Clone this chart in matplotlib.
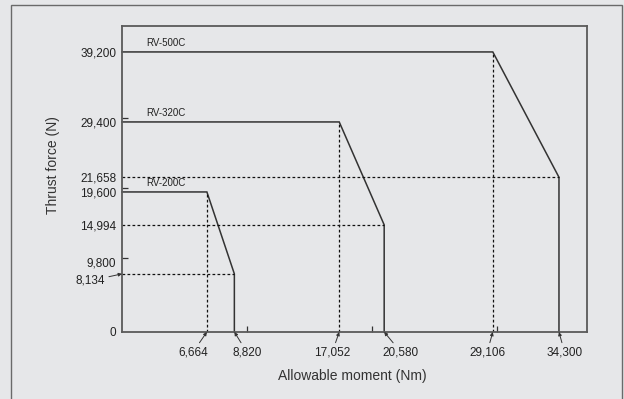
import matplotlib
matplotlib.use("Agg")
from matplotlib import pyplot as plt
from matplotlib.patches import Rectangle

# Curves: moment (Nm) vs thrust force (N)
models = ["RV-200C", "RV-320C", "RV-500C"]
knee_moment = [6664, 17052, 29106]     # end of flat part
max_moment = [8820, 20580, 34300]      # vertical drop
max_thrust = [19600, 29400, 39200]     # flat level
end_thrust = [8134, 14994, 21658]      # thrust at max moment

# tick labels
y_ticks = [0, 9800, 14994, 19600, 21658, 29400, 39200]
y_labels = ["0", "9,800", "14,994", "19,600", "21,658", "29,400", "39,200"]
minor_ticks = [9800, 19600, 29400]
x_marks = [6664, 8820, 17052, 20580, 29106, 34300]
x_mark_labels = ["6,664", "8,820", "17,052", "20,580", "29,106", "34,300"]
# label offsets (points) relative to the axis point
x_mark_dx = [-10, 9, -5, 12, -4, 4]

bg = "#e6e7e9"
ink = "#333333"

plt.rcParams['font.family'] = ['Liberation Sans', 'DejaVu Sans']

fig = plt.figure(figsize=(6.24, 3.99), dpi=100, facecolor=bg)
ax = fig.add_axes([0.1955, 0.168, 0.7452, 0.767])
ax.set_facecolor(bg)

# outer frame
fig.patches.append(Rectangle((11 / 624, -0.1), 611 / 624, 1.1 - 5 / 399,
                             transform=fig.transFigure, fill=False,
                             edgecolor="#6a6a6a", lw=1.0))

for name, xk, xm, yf, ye in zip(models, knee_moment, max_moment,
                                max_thrust, end_thrust):
    ax.plot([0, xk, xm, xm], [yf, yf, ye, 0], color=ink, lw=1.1,
            solid_joinstyle="miter", clip_on=False)
    ax.plot([xk, xk], [0, yf], color="#111111", lw=0.9, ls=(0, (2.2, 1.8)))
    ax.plot([0, xm], [ye, ye], color="#111111", lw=0.9, ls=(0, (2.2, 1.8)))
    ax.text(1900, yf + 500, name, fontsize=7, color="#222222",
            family=['Liberation Sans Narrow', 'Liberation Sans'],
            va="bottom", ha="left")

ax.set_xlim(0, 36500)
ax.set_ylim(0, 42840)

ax.set_yticks(y_ticks)
ax.set_yticklabels(y_labels)
ax.set_yticks([y + 500 for y in minor_ticks], minor=True)
ax.set_xticks([])
ax.set_xticks(minor_ticks, minor=True)
ax.tick_params(axis="both", which="major", length=0, labelsize=8.5,
               labelcolor="#222222", pad=4)
ax.tick_params(axis="both", which="minor", length=4, direction="in",
               width=0.9, color=ink)

for sp in ax.spines.values():
    sp.set_color("#5a5a5a")
    sp.set_linewidth(1.3)

# x value labels with small arrows
for xv, lab, dx in zip(x_marks, x_mark_labels, x_mark_dx):
    ax.annotate(lab, xy=(xv, 0), xytext=(dx, -14.5), textcoords="offset points",
                ha="center", va="center", fontsize=8.5, color="#222222",
                arrowprops=dict(arrowstyle="-|>", color=ink, lw=0.7,
                                mutation_scale=5, shrinkA=0.5, shrinkB=0),
                annotation_clip=False)

# 8,134 label on y axis
ax.annotate("8,134", xy=(0, 8134), xytext=(-23, -5), textcoords="offset points",
            ha="center", va="center", fontsize=8.5, color="#222222",
            arrowprops=dict(arrowstyle="-|>", color=ink, lw=0.7,
                            mutation_scale=5, shrinkA=1, shrinkB=0),
            annotation_clip=False)

ax.set_xlabel("Allowable moment (Nm)", fontsize=10, color="#333333")
ax.xaxis.set_label_coords(0.496, -0.122)
ax.set_ylabel("Thrust force (N)", fontsize=10, color="#333333")
ax.yaxis.set_label_coords(-0.133, 0.546)

fig.savefig("out.png", dpi=100, facecolor=bg)
